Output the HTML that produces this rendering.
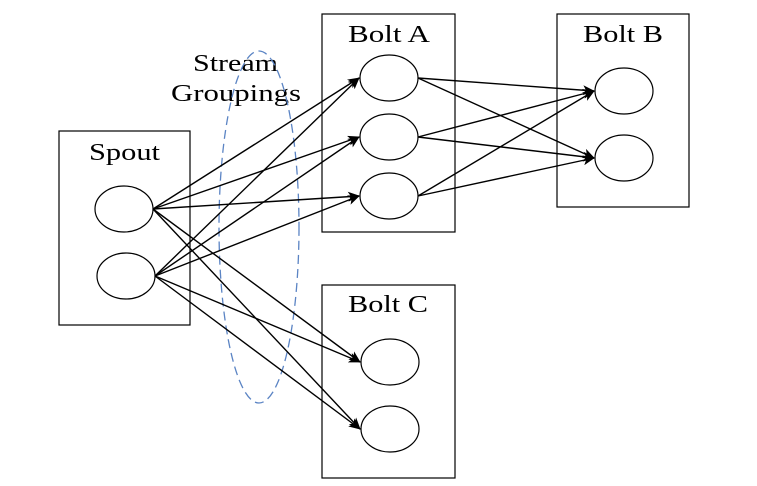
<!DOCTYPE html>
<html><head><meta charset="utf-8"><style>
html,body{margin:0;padding:0;background:#fff;width:757px;height:486px;overflow:hidden}
text{font-family:"Liberation Serif",serif;font-size:24px;fill:#000}
</style></head><body>
<svg id="d" width="757" height="486" viewBox="0 0 757 486" xmlns="http://www.w3.org/2000/svg">
<defs><marker id="ah" markerWidth="12" markerHeight="10" refX="11" refY="5" orient="auto" markerUnits="userSpaceOnUse"><path d="M0,0 L12,5 L0,10 L3,5 Z" fill="#000"/></marker></defs>
<rect x="59" y="131" width="131" height="194" fill="none" stroke="#000" stroke-width="1.2"/>
<rect x="322" y="14" width="133" height="218" fill="none" stroke="#000" stroke-width="1.2"/>
<rect x="557" y="14" width="132" height="193" fill="none" stroke="#000" stroke-width="1.2"/>
<rect x="322" y="285" width="133" height="193" fill="none" stroke="#000" stroke-width="1.2"/>
<text x="89" y="160" textLength="71" lengthAdjust="spacingAndGlyphs">Spout</text>
<text x="348" y="42" textLength="82" lengthAdjust="spacingAndGlyphs">Bolt A</text>
<text x="583" y="42" textLength="80" lengthAdjust="spacingAndGlyphs">Bolt B</text>
<text x="348" y="312" textLength="80" lengthAdjust="spacingAndGlyphs">Bolt C</text>
<text x="193" y="71" textLength="85" lengthAdjust="spacingAndGlyphs">Stream</text>
<text x="171" y="101" textLength="130" lengthAdjust="spacingAndGlyphs">Groupings</text>
<ellipse cx="259" cy="227" rx="40" ry="176" fill="none" stroke="#5b84c4" stroke-width="1.3" stroke-dasharray="9,5"/>
<g id="g"></g>
</svg>
<script>
const spout=[[124,209],[126,276]];
const boltA=[[389,78],[389,137],[389,196]];
const boltB=[[624,91],[624,158]];
const boltC=[[390,362],[390,429]];
const rx=29, ry=23;
const g=document.getElementById('g');
const NS='http://www.w3.org/2000/svg';
function line(a,b,name){
  const l=document.createElementNS(NS,'line');
  l.setAttribute('x1',a[0]+rx);l.setAttribute('y1',a[1]);
  l.setAttribute('x2',b[0]-rx-1);l.setAttribute('y2',b[1]);
  l.setAttribute('stroke','#000');l.setAttribute('stroke-width','1.4');
  l.setAttribute('marker-end','url(#ah)');
  
  
  g.appendChild(l);
}
spout.forEach((s,i)=>{boltA.forEach((t,j)=>line(s,t,'edge-spout'+i+'-a'+j));boltC.forEach((t,j)=>line(s,t,'edge-spout'+i+'-c'+j));});
boltA.forEach((s,i)=>boltB.forEach((t,j)=>line(s,t,'edge-a'+i+'-b'+j)));
function node(p,name){
  const e=document.createElementNS(NS,'ellipse');
  e.setAttribute('cx',p[0]);e.setAttribute('cy',p[1]);e.setAttribute('rx',rx);e.setAttribute('ry',ry);
  e.setAttribute('fill','#fff');e.setAttribute('stroke','#000');e.setAttribute('stroke-width','1.2');
  
  
  g.appendChild(e);
}
spout.forEach((p,i)=>node(p,'spout-task-'+i));
boltA.forEach((p,i)=>node(p,'bolt-a-task-'+i));
boltB.forEach((p,i)=>node(p,'bolt-b-task-'+i));
boltC.forEach((p,i)=>node(p,'bolt-c-task-'+i));
</script>
</body></html>
